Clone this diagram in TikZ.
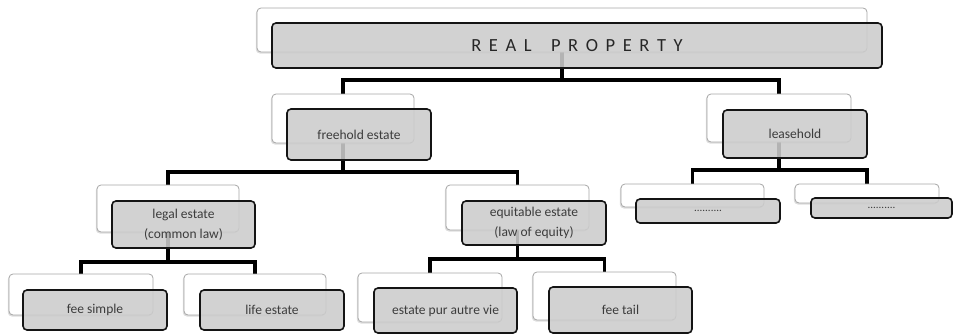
\documentclass[tikz,border=0pt]{standalone}
\usepackage{fontspec}
\setmainfont{Carlito}
\usetikzlibrary{shadows}
\pgfdeclarelayer{bg}
\pgfdeclarelayer{front}
\pgfsetlayers{bg,main,front}
\newcommand\lsp{\kern7.6pt}
\newcommand\boxfont{\fontsize{13.5}{20.5}\selectfont}
\definecolor{txt}{HTML}{3C3C3C}
\tikzset{
  wbox/.style={draw=black!35, line width=0.8pt, fill=white, rounded corners=4pt, inner sep=0pt,
    drop shadow={shadow xshift=-1.2pt, shadow yshift=-1.5pt, opacity=0.22, fill=black!60}},
  gbox/.style={draw=black!92, line width=1.6pt, fill=black!20, fill opacity=0.88, text opacity=1,
    rounded corners=4pt, inner sep=0pt, font=\boxfont, text=txt, align=center},
  conn/.style={line width=3.5pt, black}
}
\begin{document}
\begin{tikzpicture}[x=1pt,y=-1pt]
\useasboundingbox (0,0) rectangle (954,335);
% white back boxes
\node[wbox, minimum width=610pt, minimum height=44pt] (rootw) at (562,30) {};
\node[wbox, minimum width=142pt, minimum height=49pt] (freew) at (343,118.5) {};
\node[wbox, minimum width=144pt, minimum height=48pt] (leasew) at (779,118) {};
\node[wbox, minimum width=142pt, minimum height=47pt] (legalw) at (168,208.5) {};
\node[wbox, minimum width=143pt, minimum height=45pt] (equitw) at (517.5,207.5) {};
\node[wbox, minimum width=144pt, minimum height=41pt] (fsw) at (81,294.5) {};
\node[wbox, minimum width=142pt, minimum height=41pt] (lifew) at (255,294.5) {};
\node[wbox, minimum width=144pt, minimum height=49pt] (purw) at (430,297.5) {};
\node[wbox, minimum width=143pt, minimum height=48pt] (tailw) at (604.5,296) {};
\node[wbox, minimum width=143pt, minimum height=23pt] (laow) at (692.5,195.5) {};
\node[wbox, minimum width=144pt, minimum height=19pt] (lbow) at (867,193.5) {};
% junctions
\coordinate (j0) at (562,80);
\coordinate (j1) at (343,172);
\coordinate (j2) at (779,170);
\coordinate (j3) at (168,262);
\coordinate (j4) at (517.5,259);
% connectors (behind boxes)
\begin{pgfonlayer}{bg}
\draw[conn] (rootw.center) -- (j0);
\draw[conn] (freew.center) |- (j0) -| (leasew.center);
\draw[conn] (freew.center) -- (j1);
\draw[conn] (legalw.center) |- (j1) -| (equitw.center);
\draw[conn] (leasew.center) -- (j2);
\draw[conn] (laow.center) |- (j2) -| (lbow.center);
\draw[conn] (legalw.center) -- (j3);
\draw[conn] (fsw.center) |- (j3) -| (lifew.center);
\draw[conn] (equitw.center) -- (j4);
\draw[conn] (purw.center) |- (j4) -| (tailw.center);
\end{pgfonlayer}
% grey front boxes
\begin{pgfonlayer}{front}
\node[gbox, minimum width=610pt, minimum height=45pt, text=black!85] (rootg) at (577,45.5)
  {\fontsize{18.5}{20}\selectfont R\lsp E\lsp A\lsp L\lsp\ \lsp P\lsp R\lsp O\lsp P\lsp E\lsp R\lsp T\lsp Y};
\node[gbox, minimum width=144pt, minimum height=51pt] (freeg) at (359,134.5) {freehold estate};
\node[gbox, minimum width=144pt, minimum height=48pt] (leaseg) at (795,134) {leasehold};
\node[gbox, minimum width=143pt, minimum height=47pt] (legalg) at (183.5,224.5) {legal estate\\(common law)};
\node[gbox, minimum width=144pt, minimum height=44pt] (equitg) at (534,223) {equitable estate\\(law of equity)};
\node[gbox, minimum width=144pt, minimum height=40pt] (fsg) at (95,310) {fee simple};
\node[gbox, minimum width=144pt, minimum height=40pt] (lifeg) at (272,310) {life estate};
\node[gbox, minimum width=143pt, minimum height=45pt] (purg) at (445.5,310.5) {estate pur autre vie};
\node[gbox, minimum width=143pt, minimum height=46pt] (tailg) at (620.5,310) {fee tail};
\node[gbox, minimum width=144pt, minimum height=24pt, font=\fontsize{11}{12}\selectfont] (laog) at (708,211) {..........};
\node[gbox, minimum width=141pt, minimum height=20pt, font=\fontsize{11}{12}\selectfont] (lbog) at (881.5,208) {..........};
\end{pgfonlayer}
\end{tikzpicture}
\end{document}
